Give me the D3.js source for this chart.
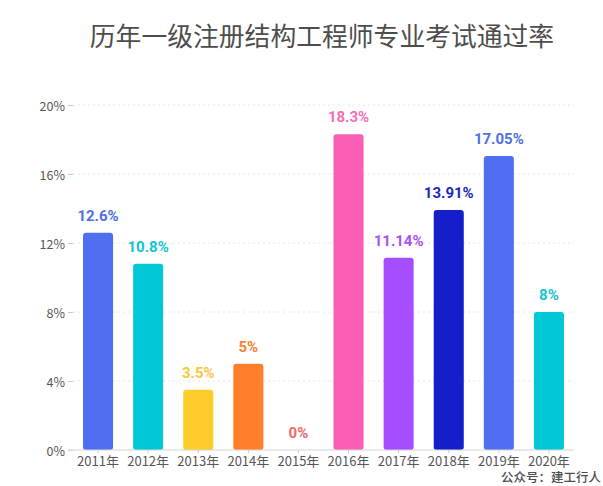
<!DOCTYPE html>
<html lang="en">
<head>
    <meta charset="utf-8" />
    <title>历年一级注册结构工程师专业考试通过率</title>
    <script src="https://cdn.jsdelivr.net/npm/d3@7"></script>
    <style>
        html, body { margin: 0; padding: 0; background: #fff; }
        svg { display: block; }
        text { font-family: "Noto Sans CJK SC", "Noto Sans", sans-serif; }
        .value { font-family: Roboto, "Noto Sans", sans-serif; }
    </style>
</head>
<body>
<div id="chart"></div>
<script>
    // values
    const years = ["2011年", "2012年", "2013年", "2014年", "2015年", "2016年", "2017年", "2018年", "2019年", "2020年"];
    const rates = [12.6, 10.8, 3.5, 5, 0, 18.3, 11.14, 13.91, 17.05, 8];
    const barColors = ["#4f6ff0", "#00c8d7", "#ffcd2b", "#ff7f2a", "#f25f5c", "#fa5fb4", "#a64dff", "#151ecb", "#4f6ff0", "#00c8d7"];
    const labelColors = ["#4f6fe6", "#12c4d2", "#fbc63c", "#fb7f35", "#ee6a66", "#f56cb8", "#a653f5", "#1c28bd", "#4f6fe6", "#12c4d2"];
    const yTicks = [0, 4, 8, 12, 16, 20];
    const title = "历年一级注册结构工程师专业考试通过率";
    const credit = "公众号：建工行人";

    const width = 603, height = 486;
    const margin = {top: 105, right: 29, bottom: 36, left: 73};

    const svg = d3.select("#chart")
        .append("svg")
        .attr("width", width)
        .attr("height", height)
        .attr("viewBox", [0, 0, width, height]);

    const x = d3.scaleBand()
        .domain(years)
        .range([margin.left, width - margin.right])
        .paddingInner(0.4)
        .paddingOuter(0.2);

    const y = d3.scaleLinear()
        .domain([0, 20])
        .range([height - margin.bottom, margin.top]);

    svg.append("text")
        .attr("x", 322)
        .attr("y", 46)
        .attr("text-anchor", "middle")
        .attr("fill", "#4d4d4d")
        .style("font-size", "25.8px")
        .text(title);

    // y axis, ticks double as dotted grid lines
    const yAxis = svg.append("g")
        .attr("transform", `translate(${margin.left},0)`)
        .call(d3.axisLeft(y).tickValues(yTicks).tickFormat(d => d + "%").tickSize(5).tickPadding(3));
    yAxis.select(".domain").remove();
    yAxis.selectAll(".tick line").attr("stroke", "#c9c9c9");
    yAxis.selectAll(".tick text")
        .attr("fill", "#555")
        .attr("dy", "0.42em")
        .style("font-size", "12.5px");

    svg.append("g")
        .selectAll("line")
        .data(yTicks.filter(d => d > 0))
        .join("line")
        .attr("x1", margin.left)
        .attr("x2", width - margin.right)
        .attr("y1", d => y(d))
        .attr("y2", d => y(d))
        .attr("stroke", "#e6e6e6")
        .attr("stroke-dasharray", "2 3");

    // bars
    svg.append("g")
        .selectAll("rect")
        .data(rates)
        .join("rect")
        .attr("x", (d, i) => x(years[i]))
        .attr("y", d => y(d))
        .attr("width", x.bandwidth())
        .attr("height", d => y(0) - y(d))
        .attr("rx", 3)
        .attr("fill", (d, i) => barColors[i]);

    // x axis
    const xAxis = svg.append("g")
        .attr("transform", `translate(0,${y(0)})`)
        .call(d3.axisBottom(x).tickSize(3).tickPadding(4));
    xAxis.select(".domain").attr("stroke", "#d4d4d4").attr("d", `M${margin.left - 5},0H${width - margin.right}`);
    xAxis.selectAll(".tick line").attr("stroke", "#c9c9c9");
    xAxis.selectAll(".tick text")
        .attr("fill", "#555")
        .style("font-size", "13px");

    // value labels
    svg.append("g")
        .selectAll("text")
        .data(rates)
        .join("text")
        .attr("class", "value")
        .attr("x", (d, i) => x(years[i]) + x.bandwidth() / 2)
        .attr("y", d => y(d) - 12)
        .attr("text-anchor", "middle")
        .attr("fill", (d, i) => labelColors[i])
        .style("font-size", "15px")
        .style("font-weight", 700)
        .text(d => d + "%");

    svg.append("text")
        .attr("x", 601)
        .attr("y", 482)
        .attr("text-anchor", "end")
        .attr("fill", "#4d4d4d")
        .style("font-size", "12.5px")
        .style("font-weight", 500)
        .text(credit);
</script>
</body>
</html>
